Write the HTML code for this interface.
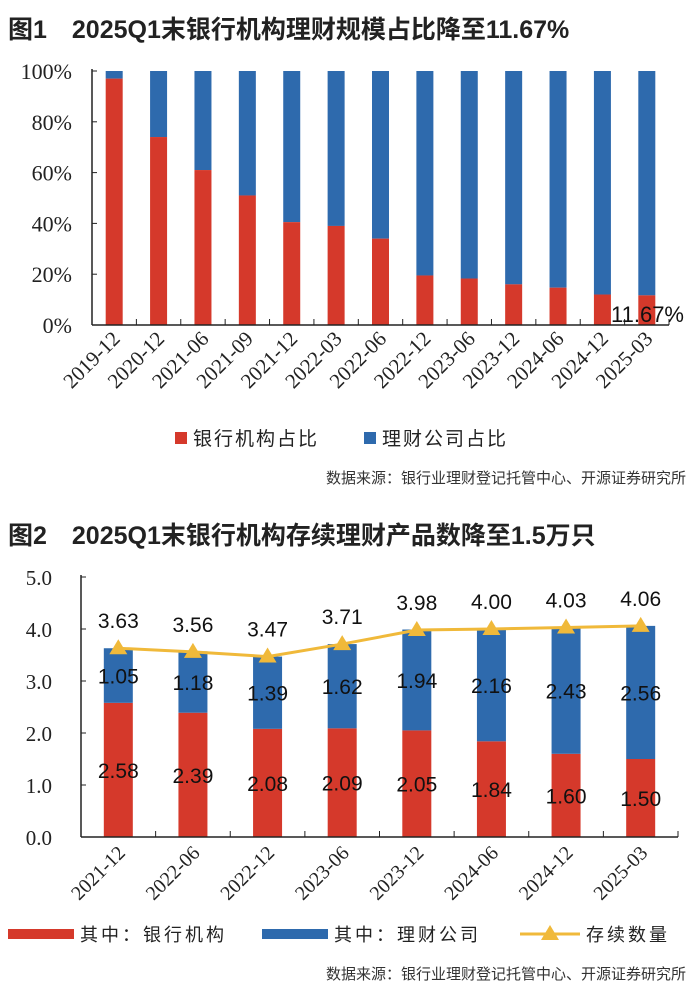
<!DOCTYPE html>
<html><head><meta charset="utf-8">
<style>
body{margin:0;width:700px;height:1004px;background:#fff;font-family:"Liberation Sans","Noto Sans CJK SC",sans-serif;position:relative;overflow:hidden}
.t{position:absolute;left:8px;font-weight:bold;font-size:25px;color:#222;white-space:nowrap}
.src{position:absolute;right:14px;font-size:15px;color:#333}
svg{position:absolute;left:0}
</style></head><body>
<div class="t" style="top:10px">图1　2025Q1末银行机构理财规模占比降至11.67%</div>
<svg id="c1" width="700" height="470" style="top:0"></svg>
<div class="src" style="top:467px">数据来源：银行业理财登记托管中心、开源证券研究所</div>
<div class="t" style="top:516px">图2　2025Q1末银行机构存续理财产品数降至1.5万只</div>
<svg id="c2" width="700" height="460" style="top:540px"></svg>
<div class="src" style="top:963px">数据来源：银行业理财登记托管中心、开源证券研究所</div>
<script>
const cats1=["2019-12","2020-12","2021-06","2021-09","2021-12","2022-03","2022-06","2022-12","2023-06","2023-12","2024-06","2024-12","2025-03"];
const bank1=[97,74,61,51,40.5,39,34,19.5,18.3,16,14.7,12,11.67];
const ticks1=["0%","20%","40%","60%","80%","100%"];
const cats2=["2021-12","2022-06","2022-12","2023-06","2023-12","2024-06","2024-12","2025-03"];
const bank2=[2.58,2.39,2.08,2.09,2.05,1.84,1.60,1.50];
const wm2=[1.05,1.18,1.39,1.62,1.94,2.16,2.43,2.56];
const tot2=[3.63,3.56,3.47,3.71,3.98,4.00,4.03,4.06];
const ticks2=["0.0","1.0","2.0","3.0","4.0","5.0"];
const NS="http://www.w3.org/2000/svg";
function mk(p,tag,a,txt){const e=document.createElementNS(NS,tag);for(const k in a)e.setAttribute(k,a[k]);if(txt!==undefined)e.textContent=txt;p.appendChild(e);return e;}
const RED="#d5392b",BLUE="#2e6aad",GOLD="#f0b93a";
// chart1
(function(){
const s=document.getElementById('c1');const x0=92,x1=669,y0=325,y1=71;
const step=(x1-x0)/cats1.length,bw=17;
const Y=v=>y0-(v/100)*(y0-y1);
ticks1.forEach((t,i)=>{const e=mk(s,'text',{x:72,y:Y(i*20)+8,'text-anchor':'end','font-size':22,'font-family':'Liberation Serif, serif',fill:'#222'},t);

mk(s,'line',{x1:x0,x2:x0+5,y1:Y(i*20),y2:Y(i*20),stroke:'#222'});});
cats1.forEach((c,i)=>{const cx=x0+step*(i+0.5);
const b=mk(s,'rect',{x:cx-bw/2,y:Y(100),width:bw,height:Y(bank1[i])-Y(100),fill:BLUE});

const r=mk(s,'rect',{x:cx-bw/2,y:Y(bank1[i]),width:bw,height:y0-Y(bank1[i]),fill:RED});

mk(s,'line',{x1:x0+step*(i+1),x2:x0+step*(i+1),y1:y0,y2:y0-6,stroke:'#222'});
const l=mk(s,'text',{x:cx+7,y:y0+15,'text-anchor':'end','font-size':21,'font-family':'Liberation Serif, serif',fill:'#222',transform:`rotate(-45 ${cx+7} ${y0+15})`},c);
});
mk(s,'line',{x1:x0,x2:x0,y1:y1-2,y2:y0,stroke:'#222','stroke-width':1.5});
mk(s,'line',{x1:x0,x2:x1,y1:y0,y2:y0,stroke:'#222','stroke-width':1.5});
const a=mk(s,'text',{x:684,y:322,'text-anchor':'end','font-size':22,fill:'#111'},bank1[12].toFixed(2)+'%');

mk(s,'rect',{x:175,y:432,width:12,height:12,fill:RED});
mk(s,'text',{x:193,y:445,'font-size':19,'letter-spacing':2,fill:'#222'},'银行机构占比');
mk(s,'rect',{x:364,y:432,width:12,height:12,fill:BLUE});
mk(s,'text',{x:382,y:445,'font-size':19,'letter-spacing':2,fill:'#222'},'理财公司占比');
})();
// chart2 (offset 540)
(function(){
const s=document.getElementById('c2');const x0=81,x1=678,y0=297,y1=37;
const step=(x1-x0)/cats2.length,bw=29;
const Y=v=>y0-(v/5)*(y0-y1);
ticks2.forEach((t,i)=>{const e=mk(s,'text',{x:52,y:Y(i)+8,'text-anchor':'end','font-size':21,'font-family':'Liberation Serif, serif',fill:'#222'},t);

mk(s,'line',{x1:x0,x2:x0+5,y1:Y(i),y2:Y(i),stroke:'#222'});});
const pts=[];
cats2.forEach((c,i)=>{const cx=x0+step*(i+0.5);
const r=mk(s,'rect',{x:cx-bw/2,y:Y(bank2[i]),width:bw,height:y0-Y(bank2[i]),fill:RED});

const b=mk(s,'rect',{x:cx-bw/2,y:Y(bank2[i]+wm2[i]),width:bw,height:Y(bank2[i])-Y(bank2[i]+wm2[i]),fill:BLUE});

mk(s,'text',{x:cx,y:Y(bank2[i]/2)+8,'text-anchor':'middle','font-size':21,fill:'#111'},bank2[i].toFixed(2));
mk(s,'text',{x:cx,y:Y(bank2[i]+wm2[i]/2)+8,'text-anchor':'middle','font-size':21,fill:'#111'},wm2[i].toFixed(2));
mk(s,'text',{x:cx,y:Y(tot2[i])-20,'text-anchor':'middle','font-size':21,fill:'#111'},tot2[i].toFixed(2));
pts.push([cx,Y(tot2[i])]);
mk(s,'line',{x1:x0+step*(i+1),x2:x0+step*(i+1),y1:y0,y2:y0-6,stroke:'#222'});
const l=mk(s,'text',{x:cx+8,y:y0+17,'text-anchor':'end','font-size':20,'font-family':'Liberation Serif, serif',fill:'#222',transform:`rotate(-45 ${cx+8} ${y0+17})`},c);
});
const ln=mk(s,'polyline',{points:pts.map(p=>p.join(',')).join(' '),fill:'none',stroke:GOLD,'stroke-width':3});

pts.forEach(p=>{mk(s,'polygon',{points:`${p[0]},${p[1]-9} ${p[0]-9},${p[1]+6} ${p[0]+9},${p[1]+6}`,fill:GOLD});});
mk(s,'line',{x1:x0,x2:x0,y1:y1-2,y2:y0,stroke:'#222','stroke-width':1.5});
mk(s,'line',{x1:x0,x2:x1,y1:y0,y2:y0,stroke:'#222','stroke-width':1.5});
mk(s,'rect',{x:8,y:389,width:66,height:10,fill:RED});
mk(s,'text',{x:80,y:401,'font-size':18,'letter-spacing':3,fill:'#222'},'其中：银行机构');
mk(s,'rect',{x:262,y:389,width:66,height:10,fill:BLUE});
mk(s,'text',{x:334,y:401,'font-size':18,'letter-spacing':3,fill:'#222'},'其中：理财公司');
mk(s,'line',{x1:520,x2:580,y1:394,y2:394,stroke:GOLD,'stroke-width':3});
mk(s,'polygon',{points:'550,385 541,400 559,400',fill:GOLD});
mk(s,'text',{x:586,y:401,'font-size':18,'letter-spacing':3,fill:'#222'},'存续数量');
})();
</script>
</body></html>
